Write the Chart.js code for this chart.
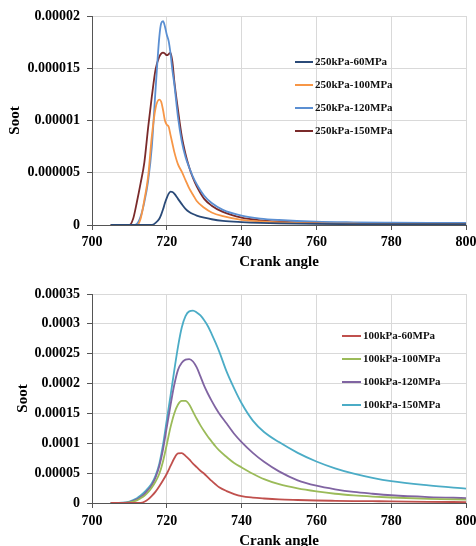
<!DOCTYPE html>
<html>
<head>
<meta charset="utf-8">
<title>Soot vs crank angle</title>
<script src="https://cdn.jsdelivr.net/npm/chart.js@4.4.1/dist/chart.umd.min.js"></script>
<style>
  html, body { margin:0; padding:0; background:#fff; overflow:hidden; }
  .box { position:relative; width:476px; }
  canvas { display:block; }
</style>
</head>
<body>
<div class="box" style="height:273px"><canvas id="topChart" width="476" height="273"></canvas></div>
<div class="box" style="height:280px"><canvas id="botChart" width="476" height="280"></canvas></div>
<script>
// upper panel: 250 kPa boost, soot in units of 1e-6
const topAngles = [705, 710, 711, 712, 713, 714, 715, 716, 717, 718, 718.5, 719, 719.5, 720, 720.5, 721, 721.5, 722,
  723, 724, 725, 726, 727, 728, 730, 732, 735, 740, 745, 750, 760, 770, 780, 790, 800];
const soot250_60 = [0, 0, 0, 0, 0, 0, 0, 0, 0.2, 0.6, 1.0, 1.5, 2.1, 2.6, 3.0, 3.2, 3.15, 3.0,
  2.5, 2.0, 1.55, 1.25, 1.05, 0.9, 0.7, 0.55, 0.4, 0.28, 0.2, 0.15, 0.1, 0.08, 0.07, 0.07, 0.07];
const soot250_100 = [0, 0, 0, 0, 0.6, 2.4, 4.6, 8.5, 11.2, 12.0, 11.8, 11.0, 10.0, 9.6, 9.4, 8.6, 7.8, 7.0,
  5.8, 5.1, 4.3, 3.5, 2.9, 2.3, 1.65, 1.2, 0.85, 0.5, 0.35, 0.25, 0.15, 0.12, 0.1, 0.1, 0.1];
const soot250_120 = [0, 0, 0, 0.1, 0.8, 2.2, 4.2, 7.5, 13.0, 18.0, 19.3, 19.5, 19.0, 18.2, 17.6, 16.4, 14.8, 13.5,
  10.3, 8.0, 6.5, 5.5, 4.6, 3.9, 2.8, 2.1, 1.45, 0.9, 0.62, 0.48, 0.32, 0.26, 0.23, 0.21, 0.2];
const soot250_150 = [0, 0, 0.6, 2.2, 4.0, 6.0, 9.3, 12.3, 14.9, 16.1, 16.4, 16.5, 16.4, 16.25, 16.35, 16.5, 15.6, 13.8,
  11.0, 8.5, 6.8, 5.5, 4.5, 3.7, 2.5, 1.85, 1.25, 0.7, 0.45, 0.33, 0.2, 0.14, 0.11, 0.1, 0.1];
const topLabels = ['250kPa-60MPa', '250kPa-100MPa', '250kPa-120MPa', '250kPa-150MPa'];
const topYTicks = [0, 0.000005, 0.00001, 0.000015, 0.00002];
const topYTickLabels = ['0', '0.000005', '0.00001', '0.000015', '0.00002'];

// lower panel: 100 kPa boost, soot in units of 1e-5
const botAngles = [705, 708, 710, 712, 713, 714, 715, 716, 717, 718, 719, 720, 721, 722, 723, 724, 725, 726, 727, 728,
  729, 730, 731, 732, 733, 734, 736, 738, 740, 743, 746, 750, 755, 760, 765, 770, 775, 780, 790, 800];
const soot100_60 = [0, 0, 0, 0, 0.02, 0.2, 0.6, 1.2, 1.9, 2.8, 3.8, 4.9, 6.2, 7.5, 8.3, 8.35, 7.9, 7.3, 6.6, 6.0,
  5.4, 4.9, 4.3, 3.7, 3.15, 2.65, 2.0, 1.5, 1.15, 0.9, 0.75, 0.6, 0.5, 0.42, 0.37, 0.33, 0.3, 0.27, 0.2, 0.15];
const soot100_100 = [0, 0.02, 0.1, 0.45, 0.8, 1.2, 1.8, 2.6, 3.6, 4.9, 7.0, 9.8, 12.7, 15.0, 16.5, 17.1, 17.1, 16.5, 15.3, 14.1,
  13.0, 12.0, 11.1, 10.3, 9.5, 8.8, 7.7, 6.7, 5.95, 4.9, 4.0, 3.15, 2.45, 1.95, 1.55, 1.28, 1.08, 0.92, 0.7, 0.55];
const soot100_120 = [0, 0.03, 0.15, 0.6, 1.0, 1.5, 2.2, 3.0, 4.3, 6.2, 9.0, 12.7, 16.4, 19.8, 22.3, 23.5, 24.0, 24.1, 23.7, 22.7,
  21.2, 19.6, 18.3, 17.1, 16.0, 15.0, 13.3, 11.6, 10.2, 8.4, 6.9, 5.3, 3.8, 2.9, 2.3, 1.85, 1.55, 1.3, 1.0, 0.82];
const soot100_150 = [0, 0.05, 0.25, 0.8, 1.25, 1.8, 2.5, 3.3, 4.6, 6.6, 9.8, 13.9, 18.0, 22.2, 26.2, 29.4, 31.3, 32.1, 32.2, 31.9,
  31.4, 30.6, 29.6, 28.3, 26.9, 25.4, 22.0, 19.2, 16.7, 13.8, 11.9, 10.2, 8.4, 6.95, 5.8, 4.9, 4.2, 3.65, 2.95, 2.4];
const botLabels = ['100kPa-60MPa', '100kPa-100MPa', '100kPa-120MPa', '100kPa-150MPa'];
const botYTicks = [0, 0.00005, 0.0001, 0.00015, 0.0002, 0.00025, 0.0003, 0.00035];
const botYTickLabels = ['0', '0.00005', '0.0001', '0.00015', '0.0002', '0.00025', '0.0003', '0.00035'];

const xTicks = [700, 720, 740, 760, 780, 800];

const SERIF = '"Liberation Serif", "Times New Roman", serif';
Chart.defaults.font.family = SERIF;
Chart.defaults.color = '#000';

// legend drawn inside the plot, line sample + label per row
const inlineLegend = {
  id: 'inlineLegend',
  afterDraw(chart, args, o) {
    const ctx = chart.ctx;
    ctx.save();
    ctx.font = 'bold 11px ' + SERIF;
    ctx.textBaseline = 'middle';
    chart.data.datasets.forEach((ds, i) => {
      const y = o.y + i * o.gap;
      ctx.strokeStyle = ds.borderColor;
      ctx.lineWidth = 2;
      ctx.beginPath();
      ctx.moveTo(o.x, y);
      ctx.lineTo(o.x + o.len, y);
      ctx.stroke();
      ctx.fillStyle = '#111';
      ctx.fillText(ds.label, o.x + o.len + 2, y);
    });
    ctx.restore();
  }
};

function toPoints(xs, ys, unit){
  return xs.map((x, i) => ({x: x, y: ys[i] * unit}));
}

function makeChart(id, cfg){
  const datasets = cfg.series.map((s, i) => ({
    label: cfg.labels[i],
    data: toPoints(cfg.angles, s, cfg.unit),
    borderColor: cfg.colors[i],
    borderWidth: 1.8,
    pointRadius: 0,
    fill: false,
    cubicInterpolationMode: 'monotone'
  }));
  return new Chart(document.getElementById(id), {
    type: 'line',
    data: { datasets },
    plugins: [inlineLegend],
    options: {
      responsive: false,
      animation: false,
      devicePixelRatio: 1,
      layout: { padding: { top: cfg.padTop, right: 10, left: 0, bottom: 0 } },
      plugins: {
        legend: { display: false },
        tooltip: { enabled: false },
        inlineLegend: cfg.legend
      },
      scales: {
        x: {
          type: 'linear', min: 700, max: 800,
          afterBuildTicks: s => { s.ticks = xTicks.map(v => ({value: v})); },
          afterFit: s => { s.height = cfg.xHeight; s.paddingRight = 0; },
          grid: { color: '#d9d9d9', tickColor: '#555', tickLength: 5 },
          border: { color: '#555', width: 1 },
          ticks: { font: { size: 14, weight: 'bold' }, padding: cfg.xTickPad, maxRotation: 0 },
          title: { display: true, text: 'Crank angle', font: { size: 15, weight: 'bold' }, padding: { top: 0, bottom: cfg.xTitlePad } }
        },
        y: {
          min: cfg.yTicks[0], max: cfg.yTicks[cfg.yTicks.length - 1],
          afterBuildTicks: s => { s.ticks = cfg.yTicks.map(v => ({value: v})); },
          afterFit: s => { s.width = 92; },
          grid: { color: '#d9d9d9', tickColor: '#555', tickLength: 5 },
          border: { color: '#555', width: 1 },
          ticks: { font: { size: 14, weight: 'bold' }, padding: 7, callback: (v, i) => cfg.yTickLabels[i] },
          title: { display: true, text: 'Soot', font: { size: 15, weight: 'bold' }, padding: { top: cfg.yTitlePad, bottom: 0 } }
        }
      }
    }
  });
}

makeChart('topChart', {
  angles: topAngles, unit: 1e-6,
  series: [soot250_60, soot250_100, soot250_120, soot250_150],
  labels: topLabels,
  colors: ['#2a4a78', '#f79646', '#5b8fd2', '#7a2a2a'],
  yTicks: topYTicks, yTickLabels: topYTickLabels,
  padTop: 16, xHeight: 48, xTickPad: 4, xTitlePad: 2, yTitlePad: 6,
  legend: { x: 295, y: 62, gap: 23, len: 18 }
});

makeChart('botChart', {
  angles: botAngles, unit: 1e-5,
  series: [soot100_60, soot100_100, soot100_120, soot100_150],
  labels: botLabels,
  colors: ['#c0504d', '#9bbb59', '#8064a2', '#4bacc6'],
  yTicks: botYTicks, yTickLabels: botYTickLabels,
  padTop: 21, xHeight: 50, xTickPad: 5, xTitlePad: 3, yTitlePad: 14,
  legend: { x: 342, y: 63, gap: 23, len: 19 }
});
</script>
</body>
</html>
